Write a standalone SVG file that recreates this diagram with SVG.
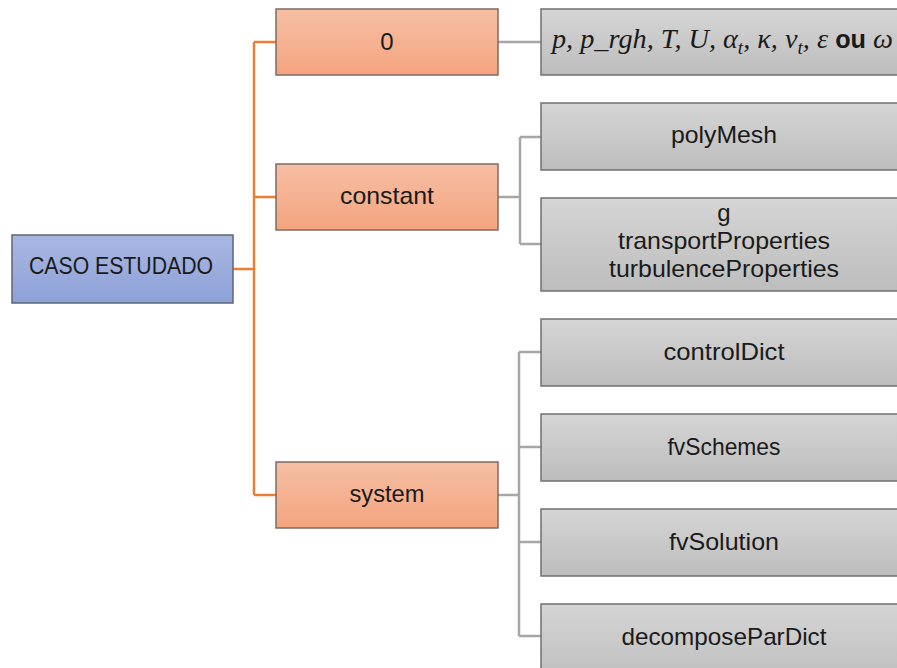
<svg xmlns="http://www.w3.org/2000/svg" width="897" height="668" viewBox="0 0 897 668">
<defs>
<linearGradient id="gOr" x1="0" y1="0" x2="0" y2="1"><stop offset="0" stop-color="#f6bfa5"/><stop offset="1" stop-color="#f4a47e"/></linearGradient>
<linearGradient id="gBl" x1="0" y1="0" x2="0" y2="1"><stop offset="0" stop-color="#a9b7e2"/><stop offset="1" stop-color="#8da1d8"/></linearGradient>
<linearGradient id="gGr" x1="0" y1="0" x2="0" y2="1"><stop offset="0" stop-color="#d5d5d5"/><stop offset="1" stop-color="#bdbdbd"/></linearGradient>
<style>
.or{fill:url(#gOr);stroke:#7d6b64;stroke-width:1.5}
.bl{fill:url(#gBl);stroke:#5f6575;stroke-width:1.5}
.gr{fill:url(#gGr);stroke:#707070;stroke-width:1.5}
.t{font-family:"Liberation Sans",Arial,sans-serif;font-size:24px;fill:#1a1a1a;text-anchor:middle}
.m{font-family:"Liberation Serif","DejaVu Serif",serif;font-style:italic;font-size:28px;fill:#1a1a1a}
.ou{font-family:"Liberation Sans",Arial,sans-serif;font-style:normal;font-weight:bold;font-size:25px}
.co{fill:none;stroke:#ed7d31;stroke-width:2.5}
.cg{fill:none;stroke:#a6a6a6;stroke-width:2.5}
</style>
</defs>
<g id="connectors">
<path class="co" d="M233,269 H254 M254,42 V495 M254,42 H276 M254,197 H276 M254,495 H276"/>
<path class="cg" d="M498,42 H541"/>
<path class="cg" d="M498,197 H520 M520,137 V244 M520,137 H541 M520,244 H541"/>
<path class="cg" d="M498,495 H519 M519,352 V636 M519,352 H541 M519,447 H541 M519,542 H541 M519,636 H541"/>
</g>
<g id="n-caso"><rect class="bl" x="12" y="235" width="221" height="68"/><text class="t" x="121" y="274" textLength="184" lengthAdjust="spacingAndGlyphs">CASO ESTUDADO</text></g>
<g id="n-0"><rect class="or" x="276" y="9" width="222" height="66"/><text class="t" x="387" y="50">0</text></g>
<g id="n-constant"><rect class="or" x="276" y="164" width="222" height="66"/><text class="t" x="387" y="204" textLength="94" lengthAdjust="spacingAndGlyphs">constant</text></g>
<g id="n-system"><rect class="or" x="276" y="462" width="222" height="66"/><text class="t" x="387" y="502" textLength="75" lengthAdjust="spacingAndGlyphs">system</text></g>
<g id="n-vars"><rect class="gr" x="541" y="9" width="370" height="66"/><text class="m" x="552" y="48" textLength="341" lengthAdjust="spacingAndGlyphs">p, p_rgh, T, U, α<tspan font-size="19" dy="6">t</tspan><tspan dy="-6">, κ, ν</tspan><tspan font-size="19" dy="6">t</tspan><tspan dy="-6">, ε </tspan><tspan class="ou">ou</tspan> ω</text></g>
<g id="n-polymesh"><rect class="gr" x="541" y="103" width="370" height="67"/><text class="t" x="724" y="143" textLength="106" lengthAdjust="spacingAndGlyphs">polyMesh</text></g>
<g id="n-props"><rect class="gr" x="541" y="198" width="370" height="93"/><text class="t" x="724" y="221">g</text><text class="t" x="724" y="249" textLength="212" lengthAdjust="spacingAndGlyphs">transportProperties</text><text class="t" x="724" y="277" textLength="230" lengthAdjust="spacingAndGlyphs">turbulenceProperties</text></g>
<g id="n-controldict"><rect class="gr" x="541" y="319" width="370" height="67"/><text class="t" x="724" y="360" textLength="121" lengthAdjust="spacingAndGlyphs">controlDict</text></g>
<g id="n-fvschemes"><rect class="gr" x="541" y="414" width="370" height="67"/><text class="t" x="724" y="455" textLength="113" lengthAdjust="spacingAndGlyphs">fvSchemes</text></g>
<g id="n-fvsolution"><rect class="gr" x="541" y="509" width="370" height="67"/><text class="t" x="724" y="550" textLength="110" lengthAdjust="spacingAndGlyphs">fvSolution</text></g>
<g id="n-decompose"><rect class="gr" x="541" y="604" width="370" height="80"/><text class="t" x="724" y="645" textLength="205" lengthAdjust="spacingAndGlyphs">decomposeParDict</text></g>
</svg>
